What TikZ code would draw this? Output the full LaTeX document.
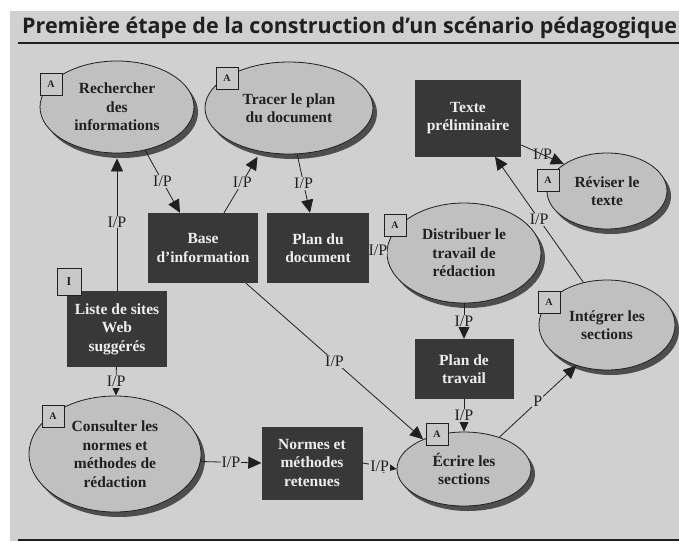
\documentclass[tikz,border=0pt]{standalone}
\usepackage{fontspec}
\setmainfont{Liberation Serif}
\newfontfamily\titlefont{Open Sans}
\usetikzlibrary{arrows.meta,shapes.geometric,shadows}
\definecolor{pagegray}{RGB}{208,208,208}
\definecolor{ellgray}{RGB}{192,192,192}
\definecolor{shadowgray}{RGB}{78,78,78}
\definecolor{boxgray}{RGB}{56,56,56}
\definecolor{boxtext}{RGB}{238,238,238}
\definecolor{taggray}{RGB}{200,200,200}
\definecolor{inkgray}{RGB}{32,32,32}
\tikzset{
    activity/.style={ellipse, draw=inkgray, line width=0.8pt, fill=ellgray,
      drop shadow={shadow xshift=4pt, shadow yshift=-5pt, fill=shadowgray, opacity=1},
      text=inkgray, font=\bfseries\fontsize{15.5}{18.5}\selectfont, align=center, inner sep=0pt},
    resource/.style={rectangle, fill=boxgray, text=boxtext,
      font=\bfseries\fontsize{15.5}{18.5}\selectfont, align=center, inner sep=0pt},
    tag/.style={rectangle, draw=inkgray, line width=0.8pt, fill=taggray, text=inkgray,
      font=\bfseries\fontsize{10}{10}\selectfont, minimum size=22pt, inner sep=0pt},
    flow/.style={draw=inkgray, line width=0.8pt, -{Triangle[length=13pt,width=12pt]}},
    iplabel/.style={fill=pagegray, inner sep=1pt, text=inkgray, font=\fontsize{16}{16}\selectfont},
}

\begin{document}
\begin{tikzpicture}[x=1pt,y=-1pt]
 \useasboundingbox (0,0) rectangle (679,541);
 \fill[white] (0,0) rectangle (679,541);
 \fill[pagegray] (10,11) rectangle (679,541);
 % title and rules
 \node[anchor=base west, inner sep=0pt, text=inkgray] (title) at (22,33)
    {\resizebox{655pt}{!}{\titlefont\bfseries\fontsize{19}{19}\selectfont Première étape de la construction d’un scénario pédagogique}};
 \draw[inkgray, line width=1.3pt] (18,43) -- (679,43);
 \draw[inkgray, line width=1.6pt] (18,540) -- (679,540);
 % activities
 \node[activity, minimum width=154pt, minimum height=92pt] (rech) at (117,107) {Rechercher\\des\\informations};
 \node[activity, minimum width=168pt, minimum height=92pt] (tracer) at (289,108) {Tracer le plan\\du document};
 \node[activity, minimum width=120pt, minimum height=76pt] (reviser) at (607,191) {Réviser le\\texte};
 \node[activity, minimum width=154pt, minimum height=100pt] (distrib) at (464,253) {Distribuer le\\travail de\\rédaction};
 \node[activity, minimum width=136pt, minimum height=90pt] (integ) at (607,325) {Intégrer les\\sections};
 \node[activity, minimum width=134pt, minimum height=74pt] (ecrire) at (464,469) {Écrire les\\sections};
 \node[activity, minimum width=172pt, minimum height=116pt] (consult) at (115,454) {Consulter les\\normes et\\méthodes de\\rédaction};
 % resources
 \node[resource, minimum width=106pt, minimum height=77pt] (texte) at (468,118) {Texte\\préliminaire};
 \node[resource, minimum width=110pt, minimum height=70pt] (base) at (203,248) {Base\\d'information};
 \node[resource, minimum width=102pt, minimum height=70pt] (plandoc) at (318,248) {Plan du\\document};
 \node[resource, minimum width=99pt, minimum height=60pt] (plantrav) at (464,369) {Plan de\\travail};
 \node[resource, minimum width=101pt, minimum height=73pt] (normes) at (312,463) {Normes et\\méthodes\\retenues};
 \node[resource, minimum width=100pt, minimum height=76pt] (liste) at (117,329) {Liste de sites\\Web\\suggérés};
 % tags
 \node[tag] (rechtag) at (51,84) {A};
 \node[tag] (tracertag) at (227,78) {A};
 \node[tag] (revisertag) at (548,180) {A};
 \node[tag] (distribtag) at (395,225) {A};
 \node[tag] (integtag) at (549,302) {A};
 \node[tag] (ecriretag) at (437,434) {A};
 \node[tag] (consulttag) at (53,416) {A};
 \node[tag, minimum width=24pt, minimum height=27pt, font=\bfseries\fontsize{12}{12}\selectfont] (listetag) at (69,282) {I};
 % flows
 \draw[flow, shorten >=5pt] (liste) -- node[iplabel] {I/P} (rech);
 \draw[flow] (rech.-57) -- node[iplabel] {I/P} ([xshift=-23pt]base.north);
 \draw[flow, shorten >=6pt] ([xshift=21pt]base.north) -- node[iplabel] {I/P} (tracer.-123);
 \draw[flow] (tracer.-80) -- node[iplabel] {I/P} ([xshift=-8pt]plandoc.north);
 \draw[inkgray, line width=0.8pt] (plandoc.east) -- node[iplabel, inner sep=0pt] {I/P} (distrib.west);
 \draw[flow] ([xshift=43pt]base.south) -- node[iplabel] {I/P} (ecrire.144);
 \draw[flow] (distrib) -- node[iplabel] {I/P} (plantrav);
 \draw[flow] (plantrav) -- node[iplabel] {I/P} (ecrire);
 \draw[flow] (normes.east) -- node[iplabel] {I/P} (ecrire.west);
 \draw[flow] (consult.-5) -- node[iplabel] {I/P} (normes.west);
 \draw[flow] (liste) -- node[iplabel] {I/P} (consult);
 \draw[flow] (ecrire.42) -- node[iplabel] {P} (integ.233);
 \draw[flow] (integ.119) -- node[iplabel] {I/P} ([xshift=27pt]texte.south);
 \draw[flow] ([yshift=-27pt]texte.east) -- node[iplabel, fill=none] {I/P} (reviser.148);
\end{tikzpicture}
\end{document}
